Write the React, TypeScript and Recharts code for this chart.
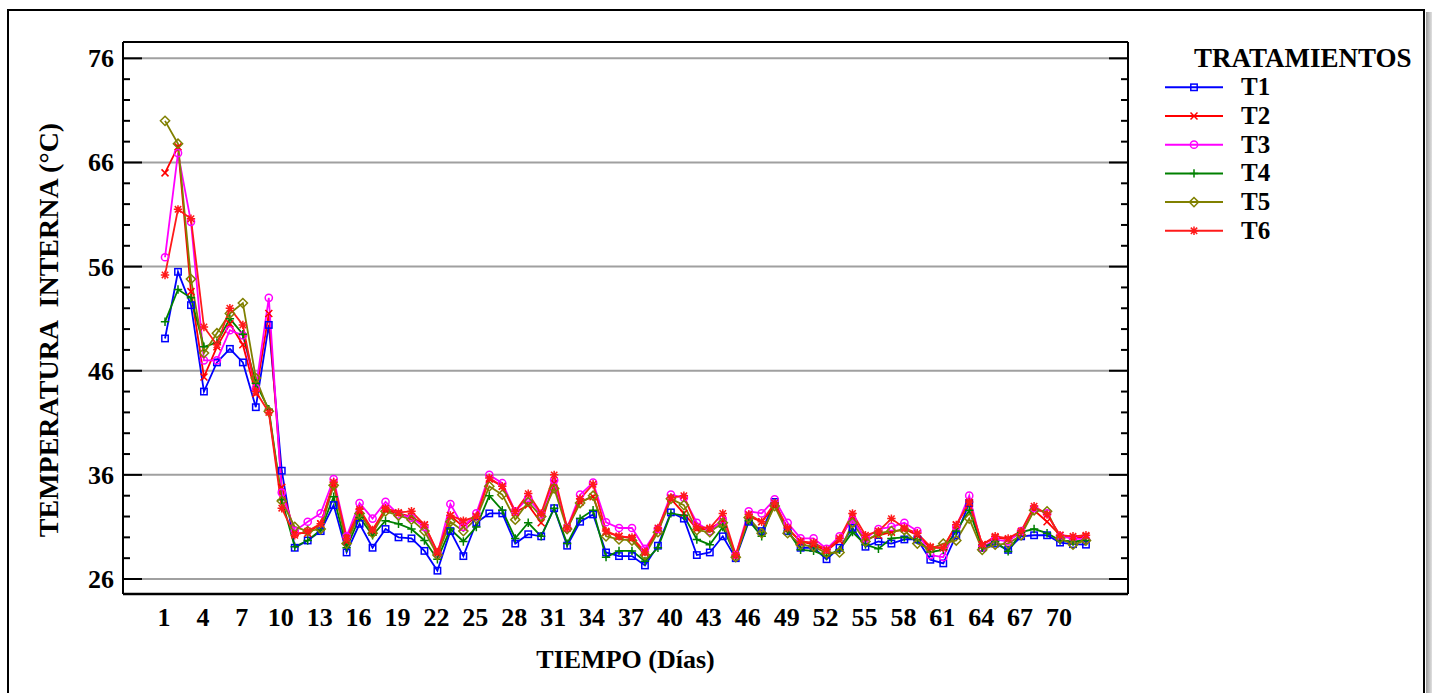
import React from 'react';
import { LineChart, Line, XAxis, YAxis, CartesianGrid, Legend } from 'recharts';

const FONT = "'Liberation Serif', 'Times New Roman', serif";

// Categories: days 1..72
const DAYS: number[] = Array.from({ length: 72 }, (_, i) => i + 1);

const T1 = [49.1, 55.5, 52.3, 44.0, 46.8, 48.1, 46.8, 42.5, 50.4, 36.4,
  29.0, 29.7, 30.6, 33.1, 28.55, 31.3, 29.0, 30.8, 30.0, 29.9,
  28.7, 26.8, 30.6, 28.2, 31.4, 32.3, 32.3, 29.4, 30.3, 30.1,
  32.8, 29.2, 31.5, 32.2, 28.55, 28.2, 28.2, 27.3, 29.2, 32.4,
  31.8, 28.3, 28.55, 30.1, 28.0, 31.5, 30.6, 33.4, 30.6, 29.0,
  29.0, 27.9, 29.0, 30.9, 29.1, 29.6, 29.4, 29.8, 29.8, 27.85,
  27.5, 30.2, 33.3, 29.0, 29.4, 28.8, 30.1, 30.2, 30.2, 29.5,
  29.35, 29.3];

const T2 = [65.0, 67.5, 53.6, 45.4, 48.3, 50.5, 48.5, 43.8, 51.5, 34.8,
  30.4, 30.4, 31.3, 35.1, 29.6, 32.5, 30.7, 32.6, 32.3, 32.0,
  31.2, 28.5, 32.1, 31.0, 32.0, 35.6, 34.9, 32.4, 33.1, 31.4,
  35.2, 30.9, 33.4, 33.9, 30.5, 30.1, 29.9, 28.5, 30.6, 33.7,
  32.3, 30.8, 30.8, 31.6, 28.2, 32.0, 31.5, 33.0, 30.8, 29.6,
  29.3, 28.7, 29.7, 32.0, 29.8, 30.2, 30.5, 30.8, 30.2, 29.0,
  29.0, 31.2, 33.3, 29.3, 30.0, 29.8, 30.4, 32.6, 31.5, 30.2,
  29.9, 30.1];

const T3 = [56.9, 66.9, 60.3, 47.0, 47.0, 49.9, 49.4, 44.3, 53.0, 34.3,
  30.6, 31.5, 32.3, 35.6, 30.1, 33.3, 31.8, 33.4, 32.2, 31.9,
  31.0, 28.4, 33.2, 31.0, 32.3, 36.0, 35.2, 32.5, 33.8, 32.2,
  35.5, 30.9, 34.1, 35.25, 31.45, 30.9, 30.9, 28.9, 30.8, 34.1,
  33.8, 31.4, 30.6, 31.7, 28.3, 32.5, 32.3, 33.65, 31.4, 29.9,
  29.9, 28.9, 30.1, 31.7, 29.9, 30.8, 31.0, 31.4, 30.6, 28.3,
  28.1, 31.0, 34.0, 29.0, 29.8, 29.6, 30.6, 32.8, 32.3, 30.1,
  29.9, 29.8];

const T4 = [50.7, 53.8, 53.0, 48.3, 48.7, 51.0, 49.5, 44.8, 42.3, 33.6,
  29.1, 29.7, 30.7, 33.9, 29.0, 31.9, 30.2, 31.6, 31.3, 30.8,
  29.7, 27.9, 30.8, 29.6, 31.0, 34.0, 32.6, 29.9, 31.4, 30.1,
  32.8, 29.4, 31.8, 32.6, 28.1, 28.7, 28.7, 27.7, 29.0, 32.3,
  32.1, 29.8, 29.3, 31.0, 28.2, 31.6, 30.1, 33.3, 30.6, 28.8,
  28.7, 28.2, 28.8, 30.5, 29.3, 28.9, 29.9, 30.0, 29.8, 28.6,
  28.8, 30.6, 32.6, 29.0, 29.6, 28.65, 30.5, 30.8, 30.4, 29.7,
  29.6, 29.7];

const T5 = [70.0, 67.8, 54.8, 47.7, 49.6, 51.5, 52.5, 45.3, 42.1, 33.5,
  31.0, 30.6, 30.8, 35.0, 29.4, 32.3, 30.4, 32.5, 32.1, 31.7,
  30.6, 28.3, 31.5, 30.6, 31.8, 34.9, 34.1, 31.7, 33.4, 32.0,
  34.7, 30.8, 33.3, 34.0, 30.1, 29.8, 29.7, 28.3, 30.5, 33.7,
  33.1, 30.7, 30.5, 31.4, 28.1, 31.9, 30.4, 33.0, 30.4, 29.3,
  29.1, 28.5, 28.55, 31.4, 29.6, 30.4, 30.6, 30.7, 29.4, 28.9,
  29.4, 29.7, 31.8, 28.8, 29.3, 29.4, 30.2, 32.6, 32.5, 29.9,
  29.3, 29.7];

const T6 = [55.2, 61.5, 60.6, 50.2, 48.5, 52.0, 50.4, 44.0, 42.0, 32.8,
  30.2, 30.6, 31.3, 35.3, 29.9, 32.7, 30.7, 32.8, 32.4, 32.5,
  31.2, 28.6, 32.1, 31.6, 32.0, 35.7, 34.9, 32.5, 34.2, 32.3,
  36.0, 30.9, 33.7, 35.1, 30.6, 30.1, 30.0, 28.6, 30.9, 33.8,
  34.0, 31.0, 30.9, 32.3, 28.3, 32.2, 31.5, 33.3, 30.9, 29.6,
  29.5, 28.8, 29.9, 32.3, 30.2, 30.6, 31.8, 30.9, 30.4, 29.1,
  29.0, 31.2, 33.4, 29.3, 30.1, 29.9, 30.6, 33.0, 32.2, 30.2,
  30.1, 30.2];

const X_TICKS = [1, 4, 7, 10, 13, 16, 19, 22, 25, 28, 31, 34, 37, 40, 43, 46, 49, 52, 55, 58, 61, 64, 67, 70];
const Y_TICKS = [26, 28, 30, 32, 34, 36, 38, 40, 42, 44, 46, 48, 50, 52, 54, 56, 58, 60, 62, 64, 66, 68, 70, 72, 74, 76];
const Y_MAJOR = [26, 36, 46, 56, 66, 76];

const X_DOMAIN: [number, number] = [-2.24, 75.24];
const Y_DOMAIN: [number, number] = [24.56, 77.57];

const SERIES = [
  { key: 'T1', name: 'T1', color: '#0000FF', shape: 'square', values: T1 },
  { key: 'T2', name: 'T2', color: '#FF0000', shape: 'x', values: T2 },
  { key: 'T3', name: 'T3', color: '#FF00FF', shape: 'circle', values: T3 },
  { key: 'T4', name: 'T4', color: '#008000', shape: 'plus', values: T4 },
  { key: 'T5', name: 'T5', color: '#808000', shape: 'diamond', values: T5 },
  { key: 'T6', name: 'T6', color: '#FF1A1A', shape: 'star', values: T6 },
];

const rows = DAYS.map((d, i) => {
  const r: any = { day: d };
  SERIES.forEach((s) => { r[s.key] = s.values[i]; });
  return r;
});

function Marker({ shape, cx, cy, color }: { shape: string; cx: number; cy: number; color: string }) {
  if (cx == null || cy == null || isNaN(cx) || isNaN(cy)) return null;
  const sw = 1.5;
  switch (shape) {
    case 'square':
      return <rect x={cx - 3.2} y={cy - 3.2} width={6.4} height={6.4} fill="none" stroke={color} strokeWidth={sw} />;
    case 'x': {
      const s = 3.5;
      return <path d={`M${cx - s},${cy - s}L${cx + s},${cy + s}M${cx - s},${cy + s}L${cx + s},${cy - s}`} stroke={color} strokeWidth={sw} fill="none" />;
    }
    case 'circle':
      return <circle cx={cx} cy={cy} r={3.6} fill="none" stroke={color} strokeWidth={sw} />;
    case 'plus': {
      const s = 4.2;
      return <path d={`M${cx - s},${cy}L${cx + s},${cy}M${cx},${cy - s}L${cx},${cy + s}`} stroke={color} strokeWidth={sw} fill="none" />;
    }
    case 'diamond': {
      const s = 4.6;
      return <polygon points={`${cx},${cy - s} ${cx + s},${cy} ${cx},${cy + s} ${cx - s},${cy}`} fill="none" stroke={color} strokeWidth={sw} />;
    }
    case 'star': {
      const s = 4.2;
      const d = 3.2;
      return <path d={`M${cx - s},${cy}L${cx + s},${cy}M${cx},${cy - s}L${cx},${cy + s}M${cx - d},${cy - d}L${cx + d},${cy + d}M${cx - d},${cy + d}L${cx + d},${cy - d}`} stroke={color} strokeWidth={sw} fill="none" />;
    }
    default:
      return null;
  }
}

const XTick = (props: any) => {
  const { x, y, payload } = props;
  return (
    <text x={Number(x) - 1} y={Number(y) + 32} textAnchor="middle" fontFamily={FONT} fontSize={26} fontWeight="bold" fill="#000">
      {payload.value}
    </text>
  );
};

const YTickLeft = (props: any) => {
  const x = Number(props.x);
  const y = Number(props.y);
  const v = props.payload.value;
  const major = Y_MAJOR.includes(v);
  return (
    <g>
      <path d={`M${x},${y}H${x + (major ? 19 : 7)}`} stroke="#000" strokeWidth={2} fill="none" />
      {major && (
        <text x={x - 9} y={y + 9} textAnchor="end" fontFamily={FONT} fontSize={26} fontWeight="bold" fill="#000">
          {v}
        </text>
      )}
    </g>
  );
};

const YTickRight = (props: any) => {
  const x = Number(props.x);
  const y = Number(props.y);
  const major = Y_MAJOR.includes(props.payload.value);
  return <path d={`M${x},${y}H${x - (major ? 19 : 7)}`} stroke="#000" strokeWidth={2} fill="none" />;
};

const XLabel = (props: any) => {
  const vb = props.viewBox || {};
  return (
    <text x={vb.x + vb.width / 2} y={vb.y + 74} textAnchor="middle" fontFamily={FONT} fontSize={26} fontWeight="bold" fill="#000">
      TIEMPO (Días)
    </text>
  );
};

const YLabel = (props: any) => {
  const vb = props.viewBox || {};
  const cx = vb.x + 35;
  const cy = vb.y + vb.height / 2 + 12;
  return (
    <text x={cx} y={cy} transform={`rotate(-90, ${cx}, ${cy})`} textAnchor="middle" fontFamily={FONT} fontSize={28} fontWeight="bold" fill="#000" style={{ whiteSpace: 'pre' }}>
      {'TEMPERATURA  INTERNA (°C)'}
    </text>
  );
};

const LegendBox = () => (
  <svg width={282} height={210} style={{ display: 'block', overflow: 'visible' }}>
    <text x={44} y={27} fontFamily={FONT} fontSize={27} fontWeight="bold" fill="#000">TRATAMIENTOS</text>
    {SERIES.map((s, i) => {
      const y = 47.3 + i * 28.7;
      return (
        <g key={s.key}>
          <line x1={15} x2={73} y1={y} y2={y} stroke={s.color} strokeWidth={2} />
          <Marker shape={s.shape} cx={44} cy={y} color={s.color} />
          <text x={91} y={y + 8} fontFamily={FONT} fontSize={25} fontWeight="bold" fill="#000">{s.name}</text>
        </g>
      );
    })}
  </svg>
);

export default function App() {
  return (
    <div style={{ position: 'absolute', left: 0, top: 0, width: 1432, height: 693, overflow: 'hidden', background: '#fff' }}>
      <div style={{ position: 'absolute', left: 7, top: 9, width: 1414, height: 720, border: '2px solid #000' }} />
      <div style={{ position: 'absolute', left: 1426, top: 12, width: 6, height: 720, background: 'linear-gradient(to right, #9a9a9a, #e0e0e0)' }} />
      <div style={{ position: 'absolute', left: 0, top: 0 }}>
        <LineChart width={1432} height={693} data={rows} margin={{ top: 41, right: 303, bottom: 39, left: 23 }}>
          <CartesianGrid xAxisId="b" yAxisId="l" vertical={false} horizontalValues={Y_MAJOR} stroke="#a0a0a0" strokeWidth={2} />
          <XAxis xAxisId="b" type="number" dataKey="day" domain={X_DOMAIN} allowDataOverflow ticks={X_TICKS} interval={0}
            height={60} tickSize={0} tickMargin={0} tickLine={false} axisLine={{ stroke: '#000', strokeWidth: 2.5 }}
            tick={<XTick />} label={<XLabel />} />
          <XAxis xAxisId="t" orientation="top" type="number" dataKey="day" domain={X_DOMAIN} allowDataOverflow height={1}
            ticks={X_TICKS} tick={false} tickLine={false} axisLine={{ stroke: '#000', strokeWidth: 2 }} />
          <YAxis yAxisId="l" type="number" domain={Y_DOMAIN} allowDataOverflow ticks={Y_TICKS} interval={0} width={100}
            tickSize={0} tickMargin={0} tickLine={false} axisLine={{ stroke: '#000', strokeWidth: 2 }}
            tick={<YTickLeft />} label={<YLabel />} />
          <YAxis yAxisId="r" orientation="right" type="number" domain={Y_DOMAIN} allowDataOverflow ticks={Y_TICKS} interval={0} width={1}
            tickSize={0} tickMargin={0} tickLine={false} axisLine={{ stroke: '#000', strokeWidth: 2 }}
            tick={<YTickRight />} />
          {SERIES.map((s) => (
            <Line key={s.key} xAxisId="b" yAxisId="l" type="linear" dataKey={s.key} name={s.name} stroke={s.color} strokeWidth={1.8}
              isAnimationActive={false} activeDot={false}
              dot={(p: any) => <Marker key={`${s.key}-${p.index}`} shape={s.shape} cx={p.cx} cy={p.cy} color={s.color} />} />
          ))}
          <Legend layout="vertical" align="center" verticalAlign="middle" wrapperStyle={{ left: 1150, top: 40, width: 282, height: 210 }} content={<LegendBox />} />
        </LineChart>
      </div>
    </div>
  );
}
